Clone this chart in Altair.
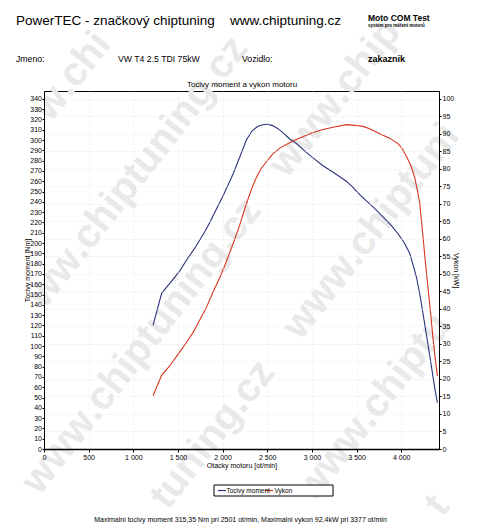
import math
import altair as alt
import pandas as pd

# ---- data ----
rpm_torque = [1221, 1318, 1420, 1520, 1600, 1688, 1744, 1800, 1856, 1931, 2000, 2060, 2117,
              2190, 2266, 2330, 2396, 2450, 2501, 2560, 2620, 2690, 2751, 2826, 2938, 3030,
              3124, 3250, 3386, 3460, 3535, 3610, 3684, 3760, 3834, 3900, 3964, 4029, 4095,
              4132, 4170, 4207, 4245, 4282, 4319, 4356, 4380, 4405]
torque_nm = [120, 151.4, 162, 173, 184, 195, 203, 211, 220, 233, 245, 256, 267,
             283, 300, 309, 313.4, 314.8, 315.35, 314, 311, 306, 301, 296.6, 288, 281.5,
             275, 268, 260, 254, 247, 241, 235, 228.5, 222, 216, 209, 201, 190,
             179, 167, 151, 131, 111, 91, 70, 57, 45]

rpm_power = [1221, 1318, 1408, 1500, 1595, 1670, 1744, 1820, 1893, 1970, 2043, 2117, 2192,
             2266, 2330, 2378, 2430, 2490, 2560, 2639, 2750, 2863, 3000, 3124, 3250, 3386,
             3480, 3572, 3647, 3720, 3796, 3880, 3964, 4010, 4058, 4110, 4151, 4180, 4207,
             4244, 4272, 4300, 4330, 4356, 4380, 4405]
power_kw = [15.2, 21.1, 23.7, 27, 30.4, 33.3, 36.8, 40.5, 44.8, 49, 53.6, 58.6, 64,
            70, 74.6, 77.5, 80, 82, 84.2, 85.9, 87.4, 88.8, 90.2, 91.2, 91.9, 92.6,
            92.4, 92.1, 91.4, 90.5, 89.6, 88.6, 87.2, 85.8, 83.6, 80.8, 77.5, 74, 70.3,
            60.6, 53, 46, 38.5, 31.5, 26, 20.8]

series_names = ["Tocivy moment", "Vykon"]
x_ticks = [0, 500, 1000, 1500, 2000, 2500, 3000, 3500, 4000]
left_ticks = list(range(0, 341, 10))
right_ticks = list(range(0, 101, 5))

header_title = "PowerTEC - značkový chiptuning"
header_url = "www.chiptuning.cz"
header_brand = "Moto COM Test"
header_brand_sub = "systém pro měření motorů"
row_labels = ["Jmeno:", "VW T4 2.5 TDI 75kW", "Vozidlo:", "zakaznik"]
chart_title = "Tocivy moment a vykon motoru"
summary = "Maximalni tocivy moment 315,35 Nm pri 2501 ot/min,  Maximalni vykon 92,4kW pri 3377 ot/min"
watermark = "www.chiptuning.cz"

# ---- style / layout ----
FONT = "Liberation Sans"
W, H = 395, 358
PAD = {"left": 36, "top": 83, "right": 33, "bottom": 75}
OX, OY = 8 + PAD["left"], 8 + PAD["top"]          # page position of the plot origin
BLUE = "#2b347e"
RED = "#d8341f"
GRID = "#e6e6e6"
WM_COLOR = "#e9e9e9"
WM_SIZE = 40
WM_ANGLE = 52

df_t = pd.DataFrame({"rpm": rpm_torque, "torque": torque_nm})
df_p = pd.DataFrame({"rpm": rpm_power, "power": power_kw})
one = pd.DataFrame({"k": [0]})

# ---- watermark: glyph-by-glyph along diagonals, only glyphs fully on the page ----
bold_w = {"w": 0.778, ".": 0.278, "c": 0.556, "h": 0.611, "i": 0.278, "p": 0.611,
          "t": 0.333, "u": 0.611, "n": 0.611, "g": 0.611, "z": 0.5}
ca, sa = math.cos(math.radians(WM_ANGLE)), math.sin(math.radians(WM_ANGLE))
total = sum(bold_w[c] for c in watermark) * WM_SIZE
u = ((total + 40) * ca, -(total + 40) * sa)
v = (13.5, 162.0)
wm_rows = []
for i in range(-3, 4):
    for j in range(-3, 5):
        cx = 128 + i * u[0] + j * v[0]
        cy = 184 + i * u[1] + j * v[1]
        s = -total / 2
        for c in watermark:
            w = bold_w[c] * WM_SIZE
            px, py = cx + (s + w / 2) * ca, cy - (s + w / 2) * sa
            s += w
            hw = (w * ca + WM_SIZE * sa) / 2
            hh = (w * sa + WM_SIZE * ca) / 2
            if px - hw >= 9 and px + hw <= 471 and py - hh >= 9 and py + hh <= 523:
                wm_rows.append({"ch": c, "px": px - OX, "py": py - OY})
wm_df = pd.DataFrame(wm_rows)

wm = alt.Chart(wm_df).mark_text(font=FONT, fontSize=WM_SIZE, fontWeight="bold",
                                 align="center", baseline="middle", color=WM_COLOR,
                                 angle=360 - WM_ANGLE).encode(
    x=alt.X("px:Q", scale=None, axis=None),
    y=alt.Y("py:Q", scale=None, axis=None),
    text="ch:N",
)

x_scale = alt.Scale(domain=[0, 4423], nice=False, zero=True)
x_axis = alt.Axis(values=x_ticks, labelExpr="replace(format(datum.value, ','), ',', ' ')",
                  title="Otacky motoru [ot/min]", labelFontSize=7, titleFontSize=7,
                  tickSize=3, labelPadding=1.5, titlePadding=0.5, domainWidth=1.6,
                  grid=True, gridColor=GRID, gridDash=[2, 2], gridWidth=0.6,
                  labelFlush=False, zindex=1)

torque = alt.Chart(df_t).mark_line(color=BLUE, strokeWidth=1.1).encode(
    x=alt.X("rpm:Q", scale=x_scale, axis=x_axis),
    y=alt.Y("torque:Q", scale=alt.Scale(domain=[0, 347.6], nice=False),
            axis=alt.Axis(orient="left", values=left_ticks, title="Tocivy moment [Nm]",
                          labelFontSize=7, titleFontSize=7, tickSize=2, labelPadding=0.5,
                          titleX=-13.5, titleY=H / 2, grid=False, domainWidth=1, zindex=1)),
)

power = alt.Chart(df_p).mark_line(color=RED, strokeWidth=1.1).encode(
    x=alt.X("rpm:Q", scale=x_scale, axis=x_axis),
    y=alt.Y("power:Q", scale=alt.Scale(domain=[0, 102.2], nice=False),
            axis=alt.Axis(orient="right", values=right_ticks, title="Vykon [kW]",
                          labelFontSize=7, titleFontSize=7, tickSize=2, labelPadding=1,
                          titleX=13, titleY=H / 2, grid=True, gridColor=GRID,
                          gridDash=[2, 2], gridWidth=0.6, domainWidth=1, zindex=1)),
)


def txt(s, x, y, size, weight="normal", align="left", baseline="alphabetic", color="black"):
    return alt.Chart(one).mark_text(font=FONT, fontSize=size, fontWeight=weight, align=align,
                                    baseline=baseline, color=color).encode(
        x=alt.value(x), y=alt.value(y), text=alt.value(s))


legend_box = alt.Chart(one).mark_rect(fill="white", stroke="black", strokeWidth=1).encode(
    x=alt.value(170), x2=alt.value(289), y=alt.value(394), y2=alt.value(405))
leg_blue = alt.Chart(one).mark_rule(color=BLUE, strokeWidth=1.2).encode(
    x=alt.value(174), x2=alt.value(182), y=alt.value(399.5))
leg_red = alt.Chart(one).mark_rule(color=RED, strokeWidth=1.2).encode(
    x=alt.value(221), x2=alt.value(229), y=alt.value(399.5))

texts = [
    txt(header_title, -28, -66, 13.5),
    txt(header_url, 186, -66, 13.5),
    txt(header_brand, 324, -70, 8.5, weight="bold"),
    txt(header_brand_sub, 324, -64, 4.5, weight="bold"),
    txt(row_labels[0], -28, -29, 8.7),
    txt(row_labels[1], 74, -29, 8.7),
    txt(row_labels[2], 198, -29, 8.7),
    txt(row_labels[3], 324, -29, 9, weight="bold"),
    txt(chart_title, 198, -5.7, 8, align="center", baseline="middle"),
    txt(series_names[0], 182.5, 400, 6.5, baseline="middle"),
    txt(series_names[1], 230.5, 400, 6.5, baseline="middle"),
    txt(summary, 196.5, 429, 7, align="center", baseline="middle"),
]

chart = alt.layer(wm, torque, power, legend_box, leg_blue, leg_red, *texts).resolve_scale(
    y="independent"
).properties(
    width=W, height=H,
    padding=PAD,
    autosize=alt.AutoSizeParams(type="none"),
).configure_view(stroke="black", strokeWidth=1).configure_axis(
    labelFont=FONT, titleFont=FONT, labelColor="black", titleColor="black",
    domainColor="black", tickColor="black", titleFontWeight="normal"
)

chart.save("out.html", embed_options={"renderer": "svg", "actions": False})
